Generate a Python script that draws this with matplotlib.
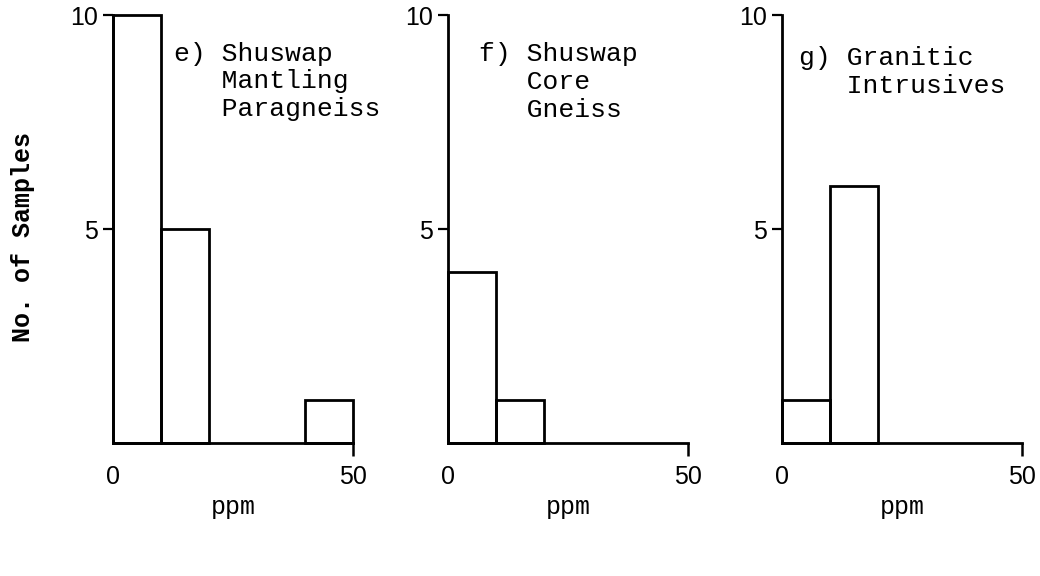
import numpy as np
import matplotlib
matplotlib.use("Agg")
from matplotlib import pyplot as plt

# histogram bins (ppm) and sample counts for each rock group
bin_edges = [0, 10, 20, 30, 40, 50]
counts_e = [10, 5, 0, 0, 1]
counts_f = [4, 1, 0, 0, 0]
counts_g = [1, 6, 0, 0, 0]

labels_e = ["e) Shuswap", "   Mantling", "   Paragneiss"]
labels_f = ["f) Shuswap", "   Core", "   Gneiss"]
labels_g = ["g) Granitic", "   Intrusives"]

y_ticks = [5, 10]
x_ticks = [0, 50]

TYPE_FONT = "Liberation Mono"
DIGIT_FONT = "Liberation Sans"

fig = plt.figure(figsize=(10.4, 5.76), dpi=100)

# (axes left, counts, caption lines, caption x/y in axes fractions)
panels = [
    (0.1087, counts_e, labels_e, 0.255, 0.938),
    (0.4308, counts_f, labels_f, 0.130, 0.936),
    (0.7519, counts_g, labels_g, 0.072, 0.928),
]

for left, counts, text_lines, tx, ty in panels:
    ax = fig.add_axes([left, 0.2309, 0.2308, 0.743])
    lefts = np.array(bin_edges[:-1])
    widths = np.diff(bin_edges)
    for x0, w, c in zip(lefts, widths, counts):
        if c == 0:
            continue
        ax.bar(x0, c, width=w, align="edge", fill=False,
               edgecolor="black", linewidth=2.0, clip_on=False)

    ax.set_xlim(0, 50)
    ax.set_ylim(0, 10)
    for side in ["top", "right"]:
        ax.spines[side].set_visible(False)
    for side in ["left", "bottom"]:
        ax.spines[side].set_linewidth(2.0)
        ax.spines[side].set_capstyle("projecting")

    ax.set_yticks(y_ticks)
    ax.set_yticklabels([str(t) for t in y_ticks], fontfamily=DIGIT_FONT, fontsize=18)
    ax.tick_params(axis="y", direction="out", length=7, width=1.6, pad=4)

    ax.set_xticks(x_ticks)
    ax.set_xticklabels([str(t) for t in x_ticks], fontfamily=DIGIT_FONT, fontsize=18)
    ax.tick_params(axis="x", direction="out", length=9, width=1.8, pad=7)
    ax.xaxis.get_ticklines()[0].set_visible(False)

    ax.set_xlabel("ppm", fontfamily=TYPE_FONT, fontsize=18, labelpad=4)

    ax.text(tx, ty, "\n".join(text_lines), transform=ax.transAxes,
            fontfamily=TYPE_FONT, fontsize=19, va="top", ha="left",
            linespacing=1.2)

fig.text(0.022, 0.589, "No. of Samples", rotation=90, ha="center", va="center",
         fontfamily=TYPE_FONT, fontsize=18, fontweight="bold")

fig.savefig("out.png", dpi=100, facecolor="white")
